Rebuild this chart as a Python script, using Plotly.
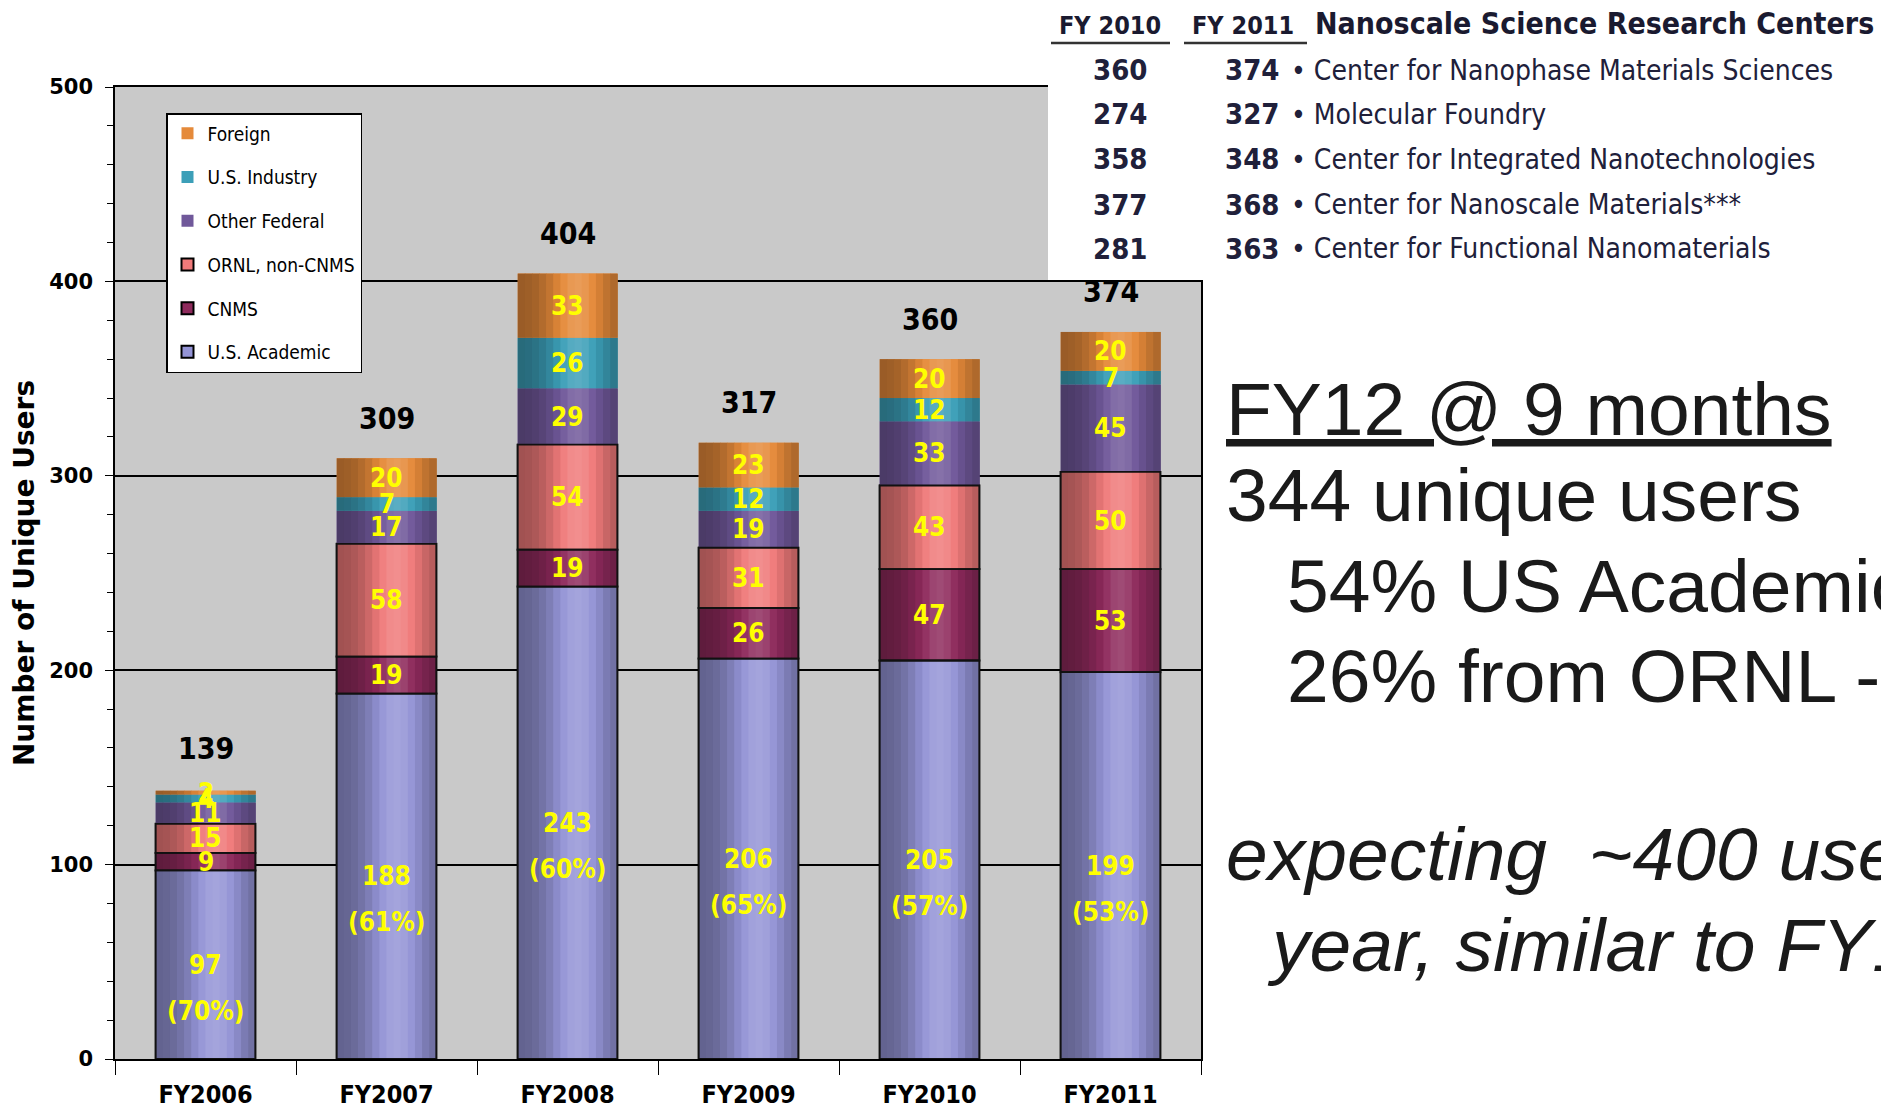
import math
import numpy as np
import plotly.graph_objects as go

# ---------------- data ----------------
categories = ["FY2006", "FY2007", "FY2008", "FY2009", "FY2010", "FY2011"]
us_academic = [97, 188, 243, 206, 205, 199]
cnms = [9, 19, 19, 26, 47, 53]
ornl_non_cnms = [15, 58, 54, 31, 43, 50]
other_federal = [11, 17, 29, 19, 33, 45]
us_industry = [4, 7, 26, 12, 12, 7]
foreign = [2, 20, 33, 23, 20, 20]
totals = [139, 309, 404, 317, 360, 374]
academic_pct = ["(70%)", "(61%)", "(60%)", "(65%)", "(57%)", "(53%)"]

y_ticks = [0, 100, 200, 300, 400, 500]

centers = [
    "Center for Nanophase Materials Sciences",
    "Molecular Foundry",
    "Center for Integrated Nanotechnologies",
    "Center for Nanoscale Materials***",
    "Center for Functional Nanomaterials",
]
fy2010_users = [360, 274, 358, 377, 281]
fy2011_users = [374, 327, 348, 368, 363]

side_lines = [
    "FY12 @ 9 months",
    "344 unique users",
    "54% US Academic",
    "26% from ORNL -",
    "expecting  ~400 users",
    "year, similar to FY11",
]

# series in stacking order (bottom -> top)
series = [
    ("U.S. Academic", us_academic, "#9494D6", True),
    ("CNMS", cnms, "#8E2A5C", True),
    ("ORNL, non-CNMS", ornl_non_cnms, "#F07A7A", True),
    ("Other Federal", other_federal, "#70589A", False),
    ("U.S. Industry", us_industry, "#3C9FB8", False),
    ("Foreign", foreign, "#E58A3A", False),
]

# ---------------- layout geometry helpers ----------------
W_FIG, H_FIG = 1889, 1109
DX, DY = -6, -7
L, R, T, B = 113 + DX, 1199 + DX, 86 + DY, 1058 + DY
PW, PH = R - L, B - T


def px(x):
    return (x + DX - L) / PW


def py(y):
    return (B - (y + DY)) / PH


NARROW = "Liberation Sans Narrow, Arial Narrow, DejaVu Sans Condensed, sans-serif"
ARIAL = "Liberation Sans, Arial, sans-serif"


def hex_rgb(h):
    h = h.lstrip("#")
    return [int(h[i:i + 2], 16) for i in (0, 2, 4)]


def shade(hexc, t):
    r, g, b = hex_rgb(hexc)
    m = 0.66 + 0.46 * math.exp(-((t - 0.6) / 0.3) ** 2)
    out = []
    for c in (r, g, b):
        if m <= 1:
            v = c * m
        else:
            v = c + (255 - c) * (m - 1) * 1.3
        out.append(int(max(0, min(255, v))))
    return "rgb(%d,%d,%d)" % tuple(out)


BAR_W = 0.55
N_STRIPES = 14

# bases by cumulative sum
vals = np.array([s[1] for s in series], dtype=float)
bases = np.vstack([np.zeros(len(categories)), np.cumsum(vals, axis=0)[:-1]])

fig = go.Figure()

# legend / underlying full bars (legend order: Foreign at top)
for idx in reversed(range(len(series))):
    name, v, col, outlined = series[idx]
    fig.add_trace(go.Bar(
        x=categories, y=v, base=bases[idx], width=BAR_W, name=name,
        marker=dict(color=col, line=dict(color="black" if outlined else col,
                                         width=2 if outlined else 0)),
        legendgroup=name, showlegend=True, hoverinfo="skip",
    ))

# cylindrical shading stripes
step = BAR_W / N_STRIPES
for idx, (name, v, col, outlined) in enumerate(series):
    for k in range(N_STRIPES):
        t = (k + 0.5) / N_STRIPES
        fig.add_trace(go.Bar(
            x=categories, y=v, base=bases[idx],
            width=step * 1.08, offset=-BAR_W / 2 + k * step,
            marker=dict(color=shade(col, t), line=dict(width=0)),
            showlegend=False, hoverinfo="skip", legendgroup=name,
        ))

# outlines of the bottom three segments
for idx, (name, v, col, outlined) in enumerate(series):
    if outlined:
        fig.add_trace(go.Bar(
            x=categories, y=v, base=bases[idx], width=BAR_W,
            marker=dict(color="rgba(0,0,0,0)", line=dict(color="#111111", width=1.8)),
            showlegend=False, hoverinfo="skip", legendgroup=name,
        ))

annotations = []
LABEL_FONT = dict(family=NARROW, size=26, color="#FFFF00", weight="bold")
# segment labels
for idx, (name, v, col, outlined) in enumerate(series):
    for j, cat in enumerate(categories):
        c = bases[idx][j] + v[j] / 2
        annotations.append(dict(
            x=cat, y=c, xref="x", yref="y", text=str(v[j]), showarrow=False,
            font=LABEL_FONT, yanchor="middle",
        ))
        if idx == 0:
            annotations.append(dict(
                x=cat, y=c, xref="x", yref="y", text=academic_pct[j], showarrow=False,
                font=LABEL_FONT, yanchor="middle", yshift=-46,
            ))

# total labels
for j, cat in enumerate(categories):
    annotations.append(dict(
        x=cat, y=totals[j], xref="x", yref="y", text=str(totals[j]), showarrow=False,
        font=dict(family=NARROW, size=30, color="black", weight="bold"),
        yanchor="middle", yshift=40,
    ))

# table
HDR = dict(family=NARROW, size=25, color="#1a1a30", weight="bold")
annotations.append(dict(x=px(1108), y=py(24), xref="paper", yref="paper", text="FY 2010",
                        showarrow=False, xanchor="center", yanchor="middle", font=HDR))
annotations.append(dict(x=px(1241), y=py(24), xref="paper", yref="paper", text="FY 2011",
                        showarrow=False, xanchor="center", yanchor="middle", font=HDR))
annotations.append(dict(x=px(1311), y=py(22), xref="paper", yref="paper",
                        text="Nanoscale Science Research Centers",
                        showarrow=False, xanchor="left", yanchor="middle",
                        font=dict(family=NARROW, size=30, color="#1a1a30", weight="bold")))
row_y = [69, 113, 158, 204, 248]
for i, name in enumerate(centers):
    annotations.append(dict(x=px(1118), y=py(row_y[i]), xref="paper", yref="paper",
                            text=str(fy2010_users[i]), showarrow=False,
                            xanchor="center", yanchor="middle",
                            font=dict(family=NARROW, size=29, color="#20203a", weight="bold")))
    annotations.append(dict(x=px(1279), y=py(row_y[i]), xref="paper", yref="paper",
                            text=str(fy2011_users[i]), showarrow=False,
                            xanchor="right", yanchor="middle",
                            font=dict(family=NARROW, size=29, color="#20203a", weight="bold")))
    annotations.append(dict(x=px(1287), y=py(row_y[i]), xref="paper", yref="paper",
                            text="\u2022 " + name, showarrow=False,
                            xanchor="left", yanchor="middle",
                            font=dict(family=NARROW, size=28, color="#20203a")))

# side text
side_pos = [(1222, 408), (1222, 494), (1283, 585), (1283, 675), (1222, 853), (1263, 944)]
for i, line in enumerate(side_lines):
    txt = line
    if i == 0:
        txt = "<u>" + line + "</u>"
    if i >= 4:
        txt = "<i>" + line + "</i>"
    annotations.append(dict(x=px(side_pos[i][0]), y=py(side_pos[i][1]), xref="paper", yref="paper",
                            text=txt, showarrow=False, xanchor="left", yanchor="middle",
                            font=dict(family=ARIAL, size=75, color="#1a1a1a")))

shapes = [
    # white panel covering the top-right of the plot area
    dict(type="rect", xref="paper", yref="paper", x0=px(1046), x1=px(1895), y0=py(279), y1=py(-10),
         fillcolor="white", line=dict(width=0), layer="above"),
    # header underlines
    dict(type="line", xref="paper", yref="paper", x0=px(1049), x1=px(1168), y0=py(42), y1=py(42),
         line=dict(color="#333333", width=2.5), layer="above"),
    dict(type="line", xref="paper", yref="paper", x0=px(1182), x1=px(1305), y0=py(42), y1=py(42),
         line=dict(color="#333333", width=2.5), layer="above"),
]

fig.update_layout(
    width=W_FIG, height=H_FIG,
    margin=dict(l=L, r=W_FIG - R, t=T, b=H_FIG - B, autoexpand=False),
    paper_bgcolor="white", plot_bgcolor="#C9C9C9",
    barmode="overlay", bargap=0.45,
    showlegend=True,
    legend=dict(x=px(164), y=py(112), xanchor="left", yanchor="top",
                bgcolor="white", bordercolor="black", borderwidth=1.5,
                font=dict(family=NARROW, size=19, color="black"),
                traceorder="grouped", tracegroupgap=16, itemwidth=30),
    annotations=annotations, shapes=shapes,
    xaxis=dict(
        type="category", range=[-0.5, 5.5], showgrid=False,
        showline=True, linecolor="black", linewidth=2, mirror=True,
        ticks="outside", tickson="boundaries", ticklen=14, tickcolor="black",
        ticklabelstandoff=12,
        tickfont=dict(family=NARROW, size=25, color="black", weight="bold"),
        fixedrange=True,
    ),
    yaxis=dict(
        range=[0, 500], tickvals=y_ticks, showgrid=True, gridcolor="black", gridwidth=1.5,
        zeroline=False, showline=True, linecolor="black", linewidth=1.5, mirror=True,
        ticks="outside", ticklen=8, tickcolor="black", ticklabelstandoff=8,
        minor=dict(dtick=20, ticks="outside", ticklen=6, tickcolor="black", showgrid=False),
        tickfont=dict(family="DejaVu Sans, sans-serif", size=21, color="black", weight="bold"),
        title=dict(text="Number of Unique Users", standoff=16,
                   font=dict(family="DejaVu Sans, sans-serif", size=28, color="black", weight="bold")),
        fixedrange=True,
    ),
)

fig.write_html("out.html")
